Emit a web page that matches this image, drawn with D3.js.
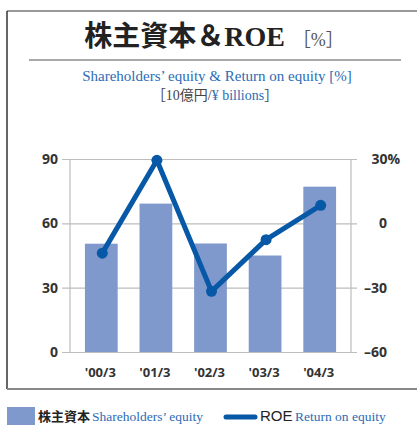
<!DOCTYPE html>
<html>
<meta charset="utf-8">
<script src="https://d3js.org/d3.v7.min.js"></script>
<style>
  body { margin: 0; background: #fff; }
</style>
<body>
<div id="chart"></div>
<script>

// data
var years = ["'00/3", "'01/3", "'02/3", "'03/3", "'04/3"];
var equity = [50.5, 69.2, 50.6, 45.0, 77.1];   // ¥ billions (x10)
var roe = [-13.9, 29.4, -31.7, -7.6, 8.4];     // %
var leftTicks = [0, 30, 60, 90];
var rightTicks = [-60, -30, 0, 30];

var W = 417, H = 425;
var barColour = "#8099cc",
    lineColour = "#0758a6",
    textBlue = "#2c6cb4",
    gridColour = "#bdbdbd";

var svg = d3.select("#chart")
    .append("svg")
    .attr("width", W)
    .attr("height", H);

//  frame
svg.append("line").attr("x1", 7).attr("x2", W).attr("y1", 11).attr("y2", 11)
    .attr("stroke", "#777").attr("stroke-width", 1.5);
svg.append("line").attr("x1", 7).attr("x2", 7).attr("y1", 11).attr("y2", 389)
    .attr("stroke", "#333").attr("stroke-width", 1.5);
svg.append("line").attr("x1", 7).attr("x2", W).attr("y1", 389).attr("y2", 389)
    .attr("stroke", "#888").attr("stroke-width", 2);

// title
var title = svg.append("text")
    .attr("x", 214).attr("y", 46)
    .attr("text-anchor", "middle")
    .style("font-family", "'Liberation Serif', 'Noto Sans CJK JP', serif")
    .style("font-weight", "bold")
    .style("font-size", "28px")
    .attr("fill", "#222");
title.append("tspan").text("株主資本＆ROE");
title.append("tspan").attr("dx", 8)
    .style("font-size", "18px").style("font-weight", "normal").attr("fill", "#555")
    .text("［%］");

svg.append("line").attr("x1", 29).attr("x2", 401).attr("y1", 60).attr("y2", 60)
    .attr("stroke", "#555").attr("stroke-width", 1.2);

svg.append("text")
    .attr("x", 217).attr("y", 81)
    .attr("text-anchor", "middle")
    .style("font-family", "'Liberation Serif', serif")
    .style("font-size", "15px")
    .attr("fill", textBlue)
    .text("Shareholders’ equity & Return on equity [%]");

var unit = svg.append("text")
    .attr("x", 215).attr("y", 100)
    .attr("text-anchor", "middle")
    .style("font-family", "'Liberation Serif', 'Noto Sans CJK JP', serif")
    .style("font-size", "14px")
    .attr("fill", "#444");
unit.append("tspan").text("［10億円/");
unit.append("tspan").attr("fill", textBlue).text("¥ billions");
unit.append("tspan").text("］");

// scales
var x = d3.scaleBand()
    .domain(years)
    .range([74, 347])
    .paddingInner(0.4)
    .paddingOuter(0.2);

var yL = d3.scaleLinear().domain([0, 90]).range([352, 159]);
var yR = d3.scaleLinear().domain([-60, 30]).range([352, 159]);

var axisFont = "'Open Sans', 'DejaVu Sans', sans-serif";

// left axis with gridlines
var gl = svg.append("g")
    .attr("transform", "translate(62,0)")
    .call(d3.axisLeft(yL).tickValues(leftTicks).tickSize(-295).tickPadding(4));
gl.select(".domain").remove();
gl.selectAll(".tick line").attr("stroke", gridColour).attr("stroke-width", 1.2);
gl.selectAll(".tick text")
    .style("font-family", axisFont).style("font-weight", "bold")
    .style("font-size", "14px").attr("fill", "#333");

// right axis labels
var gr = svg.append("g")
    .attr("transform", "translate(357,0)")
    .call(d3.axisRight(yR).tickValues(rightTicks).tickSize(0)
        .tickFormat(function(d){ return d < 0 ? "–" + Math.abs(d) : d == 30 ? d + "%" : d; }));
gr.select(".domain").remove();
gr.selectAll(".tick text")
    .attr("text-anchor", "end")
    .attr("x", function(d){ return d == 30 ? 43 : 30; })
    .style("font-family", axisFont).style("font-weight", "bold")
    .style("font-size", "14px").attr("fill", "#333");

// vertical axis lines
svg.append("line").attr("x1", 70).attr("x2", 70).attr("y1", yL(90)).attr("y2", yL(0))
    .attr("stroke", gridColour).attr("stroke-width", 1.2);
svg.append("line").attr("x1", 351).attr("x2", 351).attr("y1", yL(90)).attr("y2", yL(0))
    .attr("stroke", gridColour).attr("stroke-width", 1.2);

// bars
svg.append("g")
    .selectAll("rect")
    .data(equity)
    .enter()
    .append("rect")
        .attr("x", function(d, i){ return x(years[i]); })
        .attr("width", x.bandwidth())
        .attr("y", function(d){ return yL(d); })
        .attr("height", function(d){ return yL(0) - yL(d); })
        .attr("fill", barColour);

// x labels
svg.append("g")
    .selectAll("text")
    .data(years)
    .enter()
    .append("text")
        .attr("x", function(d){ return x(d) + x.bandwidth() / 2 - 1; })
        .attr("y", 377)
        .attr("text-anchor", "middle")
        .style("font-family", axisFont).style("font-weight", "bold")
        .style("font-size", "13px").attr("fill", "#333")
        .text(function(d){ return d; });

// ROE line
var line = d3.line()
    .x(function(d, i){ return x(years[i]) + x.bandwidth() / 2 + 1; })
    .y(function(d){ return yR(d); });

svg.append("path")
    .datum(roe)
    .attr("d", line)
    .attr("fill", "none")
    .attr("stroke", lineColour)
    .attr("stroke-width", 5)
    .attr("stroke-linejoin", "round");

svg.append("g")
    .selectAll("circle")
    .data(roe)
    .enter()
    .append("circle")
        .attr("cx", function(d, i){ return x(years[i]) + x.bandwidth() / 2 + 1; })
        .attr("cy", function(d){ return yR(d); })
        .attr("r", 5.5)
        .attr("fill", lineColour);

// legend
svg.append("rect").attr("x", 7).attr("y", 407).attr("width", 28).attr("height", 20)
    .attr("fill", barColour);
svg.append("text").attr("x", 38).attr("y", 421)
    .style("font-family", "'Noto Sans CJK JP', sans-serif").style("font-weight", "bold")
    .style("font-size", "13px").attr("fill", "#222")
    .text("株主資本");
svg.append("text").attr("x", 92).attr("y", 421)
    .style("font-family", "'Liberation Serif', serif")
    .style("font-size", "13.5px").attr("fill", textBlue)
    .text("Shareholders’ equity");

svg.append("line").attr("x1", 226).attr("x2", 255).attr("y1", 417).attr("y2", 417)
    .attr("stroke", lineColour).attr("stroke-width", 5).attr("stroke-linecap", "round");
svg.append("text").attr("x", 260).attr("y", 421)
    .style("font-family", "'Liberation Sans Narrow', 'Liberation Sans', sans-serif")
    .style("font-size", "15px").attr("fill", "#222")
    .text("ROE");
svg.append("text").attr("x", 295).attr("y", 421)
    .style("font-family", "'Liberation Serif', serif")
    .style("font-size", "13.5px").attr("fill", textBlue)
    .text("Return on equity");

</script>
</body>
</html>
